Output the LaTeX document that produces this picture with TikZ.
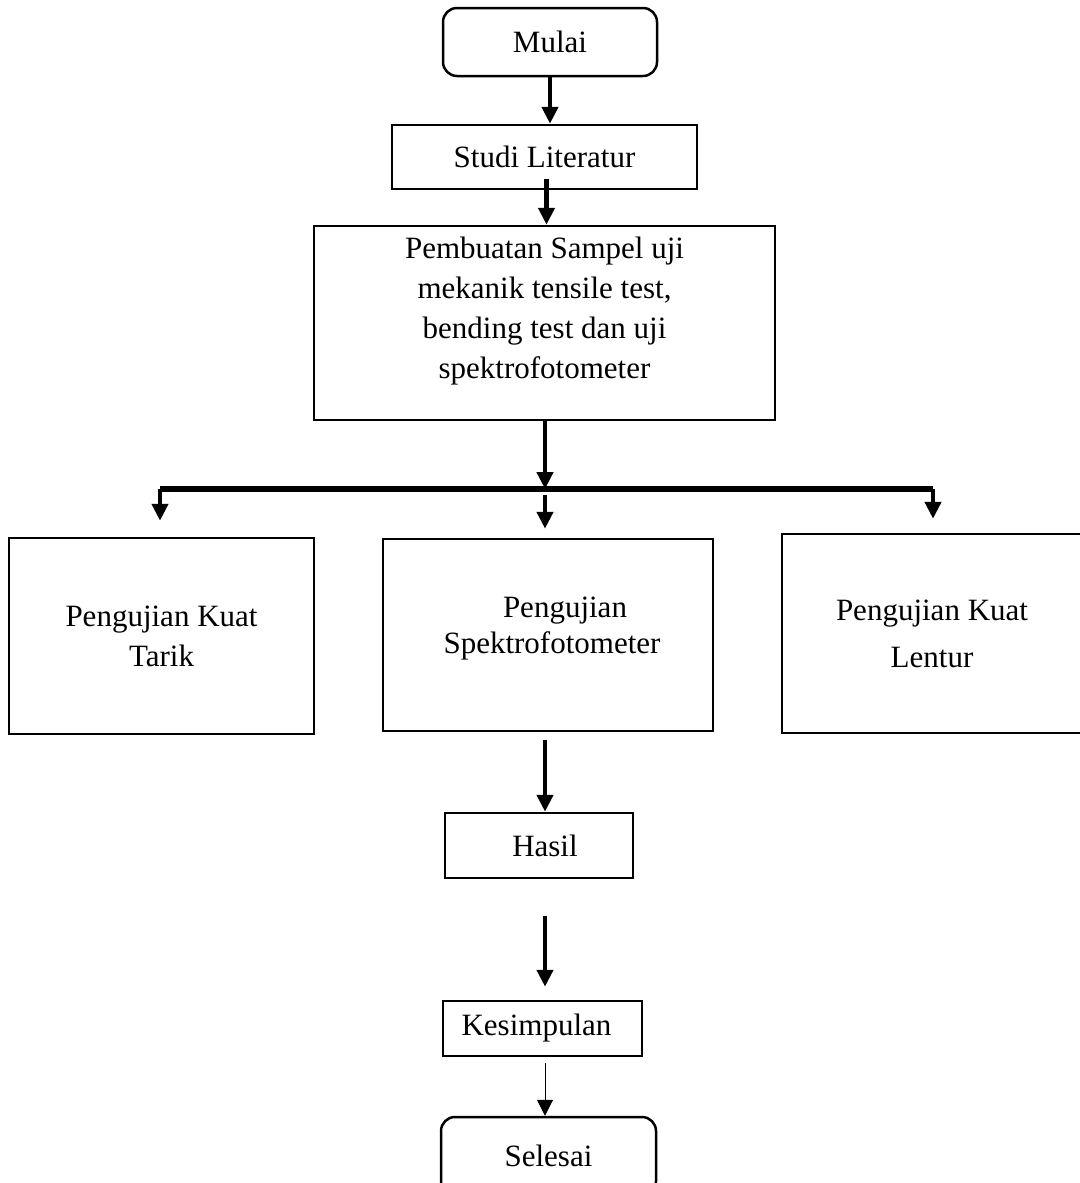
\documentclass[tikz,border=0pt]{standalone}
\usepackage{fontspec}
\setmainfont{Liberation Serif}
\usetikzlibrary{arrows.meta, calc}

\begin{document}
\begin{tikzpicture}[
    x=1pt, y=-1pt,
    every node/.style={color=black, font=\fontsize{31}{40}\selectfont},
    box/.style={draw, line width=2.5pt, align=center, inner sep=0pt},
    terminal/.style={box, rounded corners=14pt},
    arr/.style={line width=4.5pt, -{Triangle[width=16pt,length=17pt]}},
    thin arr/.style={line width=1pt, -{Triangle[width=16pt,length=16pt]}},
    branch line/.style={line width=5.5pt}
    ]
    \useasboundingbox (0,0) rectangle (1079,1183);
    % Start
    \node[terminal, minimum width=214pt, minimum height=68pt] (mulai) at (550,42) {Mulai};
    \node[box, minimum width=305pt, minimum height=64pt] (studi) at (544.5,157) {Studi Literatur};
    \node[box, minimum width=461pt, minimum height=194pt] (pembuatan) at (544.5,323)
        {Pembuatan Sampel uji\\mekanik tensile test,\\bending test dan uji\\spektrofotometer\\[-10pt]\mbox{}};
    % Tests
    \node[box, minimum width=305pt, minimum height=196pt] (tarik) at (161.5,636)
        {Pengujian Kuat\\Tarik};
    \node[box, minimum width=330pt, minimum height=192pt,
        font=\fontsize{31}{36}\selectfont] (spektro) at (548,635)
        {\hspace*{34pt}Pengujian\\\hspace*{8pt}Spektrofotometer\\[-17pt]\mbox{}};
    \node[box, minimum width=300pt, minimum height=199pt,
        font=\fontsize{31}{47}\selectfont] (lentur) at (932,633.5)
        {Pengujian Kuat\\Lentur};
    % End
    \node[box, minimum width=188pt, minimum height=65pt] (hasil) at (539,845.5) {\hspace*{12pt}Hasil};
    \node[box, minimum width=199pt, minimum height=55pt] (kesimpulan) at (542.5,1028.5) {Kesimpulan\hspace*{12pt}};
    \node[terminal, minimum width=215pt, minimum height=78pt] (selesai) at (548.5,1156) {Selesai};
    % Split points
    \coordinate (split) at (545,489);
    \coordinate (splitL) at (160,489);
    \coordinate (splitR) at (933,489);
    % Arrows
    \draw[arr] (mulai.south) -- (mulai.south |- studi.north);
    \draw[arr] ([xshift=2pt,yshift=11pt]studi.south) -- ([xshift=2pt]studi.south |- pembuatan.north);
    \draw[arr] (pembuatan.south -| split) -- (split);
    \draw[branch line] (splitL) -- (splitR);
    \draw[arr, shorten >=16pt] (splitL) -- (splitL |- tarik.north);
    \draw[arr, shorten <=6pt, shorten >=9pt] (split) -- (split |- spektro.north);
    \draw[arr, shorten >=14pt] (splitR) -- (splitR |- lentur.north);
    \draw[arr, shorten <=8pt] (spektro.south -| split) -- (split |- hasil.north);
    \draw[arr, shorten <=37pt, shorten >=13pt] (hasil.south -| split) -- (split |- kesimpulan.north);
    \draw[thin arr, shorten <=6pt] (kesimpulan.south -| split) -- (split |- selesai.north);
\end{tikzpicture}
\end{document}
